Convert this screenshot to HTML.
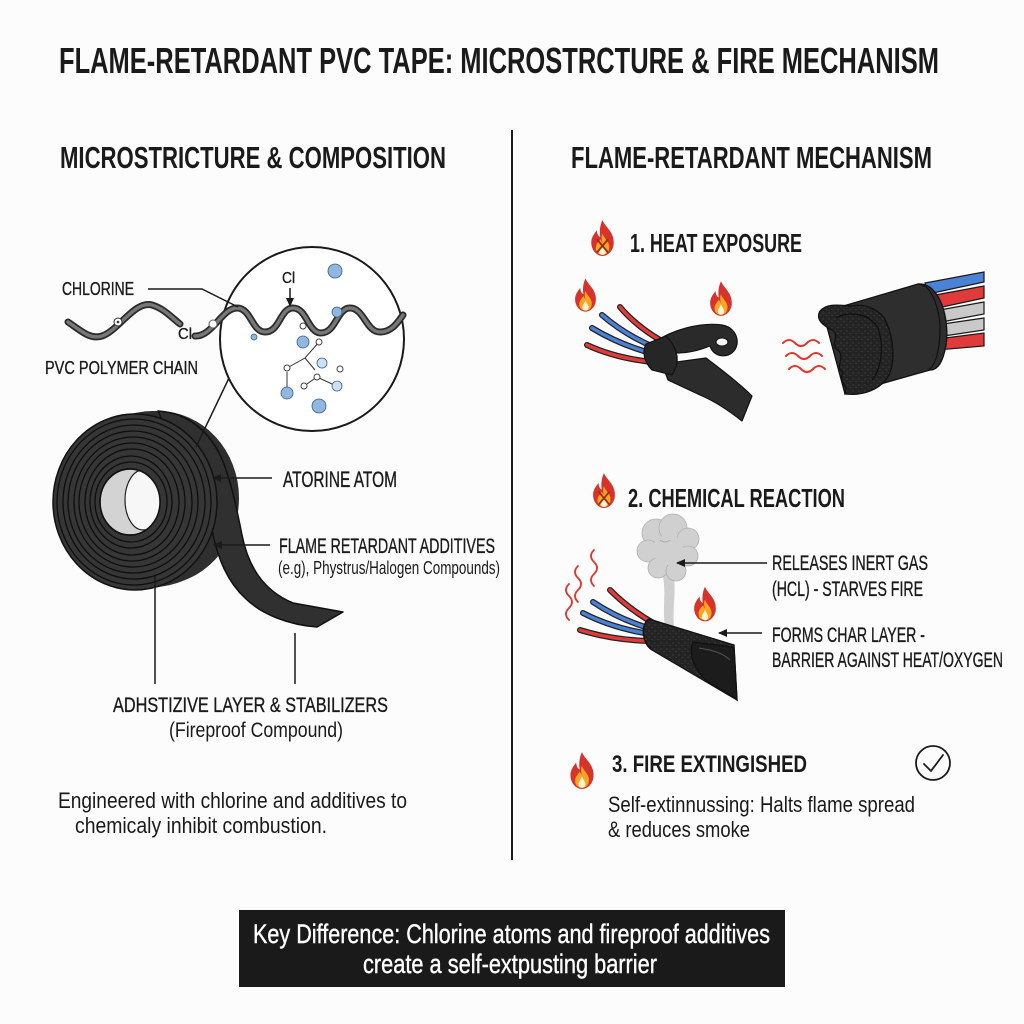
<!DOCTYPE html>
<html>
<head>
<meta charset="utf-8">
<style>
  html,body{margin:0;padding:0;background:#fcfcfc;}
  svg{display:block;}
  text{font-family:"Liberation Sans Narrow","Liberation Sans","DejaVu Sans",sans-serif;fill:#1a1a1a;}
  .h{font-weight:bold;}
  .l{stroke:#1a1a1a;stroke-width:0.35;}
  .w{fill:#ffffff;stroke:#ffffff;stroke-width:0.4;}
</style>
</head>
<body>
<svg width="1024" height="1024" viewBox="0 0 1024 1024" xmlns="http://www.w3.org/2000/svg">
  <defs>
    <marker id="ah" markerWidth="10" markerHeight="10" refX="8" refY="5" orient="auto" markerUnits="userSpaceOnUse">
      <path d="M0,1 L9,5 L0,9 Z" fill="#1a1a1a"/>
    </marker>
    <symbol id="flame" viewBox="0 0 24 32">
      <path d="M12,0 C14,6 22,10 22,20 C22,27 17,32 12,32 C7,32 2,27 2,20 C2,15 5,12 7,9 C7,13 9,15 10,15 C9,10 10,4 12,0 Z" fill="#d8322a"/>
      <path d="M12,12 C13,16 18,19 18,24 C18,29 15,31 12,31 C9,31 6,29 6,25 C6,21 9,19 10,17 C11,19 12,20 12,20 C11,17 11,14 12,12 Z" fill="#f6a623"/>
      <path d="M12,21 C13,24 15,26 15,28 C15,30 13.5,31 12,31 C10.5,31 9,30 9,28 C9,26 11,24 12,21 Z" fill="#fff4d2"/>
    </symbol>
    <symbol id="flamex" viewBox="0 0 24 32">
      <use href="#flame" x="0" y="0" width="24" height="32"/>
      <path d="M7,17 L17,29 M17,17 L7,29" stroke="#9a2a1c" stroke-width="1.6"/>
    </symbol>
    <pattern id="speck" width="6" height="6" patternUnits="userSpaceOnUse">
      <rect width="6" height="6" fill="#242424"/>
      <circle cx="1" cy="1" r="0.6" fill="#4a4a4a"/>
      <circle cx="4" cy="3.5" r="0.5" fill="#555"/>
      <circle cx="2.5" cy="5" r="0.4" fill="#111"/>
    </pattern>
    <clipPath id="holeclip"><ellipse cx="130" cy="502" rx="30" ry="33"/></clipPath>
  </defs>

  <rect width="1024" height="1024" fill="#fcfcfc"/>

  <!-- Title -->
  <text class="h" x="59" y="73" font-size="36" textLength="880" lengthAdjust="spacingAndGlyphs">FLAME-RETARDANT PVC TAPE: MICROSTRCTURE &amp; FIRE MECHANISM</text>

  <!-- Subheads -->
  <text class="h" x="60" y="168" font-size="31" textLength="386" lengthAdjust="spacingAndGlyphs">MICROSTRICTURE &amp; COMPOSITION</text>
  <text class="h" x="571" y="168" font-size="31" textLength="361" lengthAdjust="spacingAndGlyphs">FLAME-RETARDANT MECHANISM</text>

  <!-- Divider -->
  <line x1="512" y1="130" x2="512" y2="860" stroke="#1a1a1a" stroke-width="2"/>

  <!-- ============ LEFT ============ -->
  <!-- magnifier circle -->
  <circle cx="312" cy="339" r="92" fill="#ffffff" stroke="#1a1a1a" stroke-width="2"/>

  <!-- chain left portion -->
  <path d="M68,322 C80,330 90,340 102,336 C118,331 135,300 152,305 C165,309 172,318 180,324" fill="none" stroke="#2a2a2a" stroke-width="7" stroke-linecap="round"/>
  <path d="M68,322 C80,330 90,340 102,336 C118,331 135,300 152,305 C165,309 172,318 180,324" fill="none" stroke="#777" stroke-width="3.5" stroke-linecap="round"/>
  <!-- chain right portion -->
  <path d="M195,336 C212,337 222,308 237,308 C251,308 252,332 265,332 C280,332 280,308 293,308 C307,308 308,333 321,333 C336,333 337,308 350,308 C364,308 366,332 380,332 C392,332 398,322 403,315" fill="none" stroke="#2a2a2a" stroke-width="7" stroke-linecap="round"/>
  <path d="M195,336 C212,337 222,308 237,308 C251,308 252,332 265,332 C280,332 280,308 293,308 C307,308 308,333 321,333 C336,333 337,308 350,308 C364,308 366,332 380,332 C392,332 398,322 403,315" fill="none" stroke="#777" stroke-width="3.5" stroke-linecap="round"/>

  <circle cx="118" cy="322" r="4" fill="#fff" stroke="#333" stroke-width="1"/>
  <circle cx="118" cy="322" r="1.3" fill="#333"/>
  <circle cx="213" cy="324" r="4" fill="#fff" stroke="#666" stroke-width="1"/>

  <!-- dots inside circle -->
  <g stroke="#3a5f86" stroke-width="0.8">
    <circle cx="335" cy="271" r="7" fill="#8fb7e0"/>
    <circle cx="337" cy="312" r="5" fill="#8fb7e0"/>
    <circle cx="254" cy="337" r="3" fill="#8fb7e0"/>
    <circle cx="303" cy="342" r="6" fill="#8fb7e0"/>
    <circle cx="322" cy="363" r="5" fill="#cfe0f2"/>
    <circle cx="337" cy="386" r="5" fill="#cfe0f2"/>
    <circle cx="287" cy="393" r="6" fill="#8fb7e0"/>
    <circle cx="319" cy="406" r="7" fill="#8fb7e0"/>
  </g>
  <g stroke="#333" stroke-width="1" fill="none">
    <path d="M287,368 L305,358 L319,342"/>
    <path d="M305,358 L315,370"/>
    <path d="M287,372 L287,387"/>
    <path d="M304,386 L317,377 L332,384"/>
  </g>
  <g stroke="#444" stroke-width="1" fill="#fff">
    <circle cx="303" cy="326" r="3"/>
    <circle cx="319" cy="342" r="3"/>
    <circle cx="287" cy="368" r="3"/>
    <circle cx="340" cy="369" r="3"/>
    <circle cx="317" cy="377" r="3"/>
    <circle cx="304" cy="386" r="3"/>
  </g>

  <!-- Cl labels -->
  <text class="l" x="282" y="283" font-size="16" textLength="13" lengthAdjust="spacingAndGlyphs">Cl</text>
  <line x1="290" y1="288" x2="290" y2="306" stroke="#1a1a1a" stroke-width="1.5" marker-end="url(#ah)"/>
  <text class="l" x="178" y="339" font-size="16" textLength="14" lengthAdjust="spacingAndGlyphs">Cl</text>

  <!-- Chlorine leader -->
  <polyline points="148,289 202,289 238,307" fill="none" stroke="#1a1a1a" stroke-width="1.5"/>
  <text class="l" x="62" y="295" font-size="18" textLength="72" lengthAdjust="spacingAndGlyphs">CHLORINE</text>
  <text class="l" x="45" y="374" font-size="18" textLength="153" lengthAdjust="spacingAndGlyphs">PVC POLYMER CHAIN</text>

  <!-- Tape roll -->
  <g fill="#2f2f2f" stroke="none">
    <ellipse cx="141" cy="501" rx="82" ry="88"/>
    <ellipse cx="147" cy="500" rx="82" ry="88"/>
    <ellipse cx="153" cy="499" rx="82" ry="88"/>
    <ellipse cx="158" cy="498" rx="81" ry="87"/>
  </g>
  <path d="M158,411 C190,413 215,435 226,470 C233,490 238,515 242,535 C248,565 262,590 293,603 L343,612 L317,627 C290,625 262,615 245,598 C228,582 218,560 212,530 Z" fill="#303030" stroke="#111" stroke-width="1.5" stroke-linejoin="round"/>
  <ellipse cx="135" cy="502" rx="82" ry="88" fill="#363636" stroke="#111" stroke-width="1.5"/>
  <g fill="none" stroke="#0e0e0e" stroke-width="1.3">
    <ellipse cx="134" cy="502" rx="77" ry="83"/>
    <ellipse cx="134" cy="502" rx="71" ry="77"/>
    <ellipse cx="133" cy="502" rx="65" ry="71"/>
    <ellipse cx="133" cy="502" rx="59" ry="65"/>
    <ellipse cx="132" cy="502" rx="53" ry="59"/>
    <ellipse cx="132" cy="502" rx="47" ry="53"/>
    <ellipse cx="131" cy="502" rx="41" ry="46"/>
    <ellipse cx="131" cy="502" rx="36" ry="40"/>
  </g>
  <ellipse cx="130" cy="502" rx="30" ry="33" fill="#d3d3d3" stroke="#111" stroke-width="1.5"/>
  <g clip-path="url(#holeclip)">
    <ellipse cx="143" cy="500" rx="18" ry="30" fill="#f7f7f7" stroke="#222" stroke-width="1.2"/>
  </g>
  <ellipse cx="130" cy="502" rx="30" ry="33" fill="none" stroke="#111" stroke-width="1.5"/>

  <!-- leader from circle to tape -->
  <line x1="229" y1="378" x2="196" y2="447" stroke="#1a1a1a" stroke-width="1.5"/>

  <!-- arrows -->
  <line x1="272" y1="478" x2="213" y2="478" stroke="#1a1a1a" stroke-width="1.5" marker-end="url(#ah)"/>
  <text class="l" x="283" y="487" font-size="22" textLength="114" lengthAdjust="spacingAndGlyphs">ATORINE ATOM</text>
  <line x1="270" y1="545" x2="214" y2="545" stroke="#1a1a1a" stroke-width="1.5" marker-end="url(#ah)"/>
  <text class="l" x="279" y="553" font-size="21" textLength="216" lengthAdjust="spacingAndGlyphs">FLAME RETARDANT ADDITIVES</text>
  <text x="278" y="574" font-size="18" textLength="222" lengthAdjust="spacingAndGlyphs">(e.g), Phystrus/Halogen Compounds)</text>

  <line x1="155" y1="576" x2="155" y2="684" stroke="#1a1a1a" stroke-width="1.5"/>
  <line x1="295" y1="633" x2="295" y2="684" stroke="#1a1a1a" stroke-width="1.5"/>
  <text class="l" x="113" y="712" font-size="21" textLength="275" lengthAdjust="spacingAndGlyphs">ADHSTIZIVE LAYER &amp; STABILIZERS</text>
  <text x="169" y="737" font-size="21" textLength="174" lengthAdjust="spacingAndGlyphs">(Fireproof Compound)</text>

  <text x="58" y="808" font-size="22" textLength="349" lengthAdjust="spacingAndGlyphs">Engineered with chlorine and additives to</text>
  <text x="75" y="833" font-size="22" textLength="252" lengthAdjust="spacingAndGlyphs">chemicaly inhibit combustion.</text>

  <!-- ============ RIGHT ============ -->
  <!-- Step 1 -->
  <use href="#flamex" x="588" y="220" width="29" height="36"/>
  <text class="h" x="630" y="252" font-size="26" textLength="172" lengthAdjust="spacingAndGlyphs">1. HEAT EXPOSURE</text>

  <use href="#flame" x="573" y="277" width="25" height="36"/>
  <use href="#flame" x="708" y="280" width="26" height="37"/>

  <!-- wires left -->
  <g fill="none" stroke-linecap="round">
    <path d="M620,307 Q635,325 660,340" stroke="#222" stroke-width="6"/>
    <path d="M620,307 Q635,325 660,340" stroke="#e03a3a" stroke-width="3.5"/>
    <path d="M602,315 Q625,335 656,348" stroke="#222" stroke-width="6"/>
    <path d="M602,315 Q625,335 656,348" stroke="#4a80d6" stroke-width="3.5"/>
    <path d="M592,328 Q620,345 654,354" stroke="#222" stroke-width="6"/>
    <path d="M592,328 Q620,345 654,354" stroke="#4a80d6" stroke-width="3.5"/>
    <path d="M587,345 Q615,358 652,362" stroke="#222" stroke-width="6"/>
    <path d="M587,345 Q615,358 652,362" stroke="#e03a3a" stroke-width="3.5"/>
  </g>
  <!-- tape on wires -->
  <path d="M655,342 C672,330 700,322 722,325 C740,328 742,350 728,355 C718,358 712,352 710,346 C700,350 688,353 678,353 Z" fill="#2a2a2a" stroke="#111" stroke-width="1.2"/>
  <ellipse cx="722" cy="342" rx="6" ry="4" fill="#fcfcfc" stroke="#111" stroke-width="1"/>
  <path d="M662,364 L706,358 C722,370 740,384 752,396 L742,421 C728,410 712,400 700,395 L668,380 Z" fill="#2c2c2c" stroke="#111" stroke-width="1.2" stroke-linejoin="round"/>
  <path d="M646,344 L666,336 C676,346 682,360 672,375 L652,370 C644,362 642,352 646,344 Z" fill="#262626" stroke="#111" stroke-width="1.2"/>

  <!-- heat waves -->
  <g fill="none" stroke="#e2362e" stroke-width="2" stroke-linecap="round">
    <path d="M783,343 c4,-4 8,-4 12,0 c4,4 8,4 12,0 c4,-4 8,-4 12,0"/>
    <path d="M786,356 c4,-4 8,-4 12,0 c4,4 8,4 12,0 c4,-4 8,-4 12,0"/>
    <path d="M789,369 c4,-4 8,-4 12,0 c4,4 8,4 12,0 c4,-4 8,-4 12,0"/>
  </g>

  <!-- charred cable right -->
  <g stroke="#1a1a1a" stroke-width="1.2">
    <path d="M925,283 L984,272 L984,282 L928,294 Z" fill="#4a82d6"/>
    <path d="M930,296 L984,286 L984,298 L933,309 Z" fill="#e03a3a"/>
    <path d="M934,311 L984,302 L984,314 L936,323 Z" fill="#c9c9c9"/>
    <path d="M936,325 L984,318 L984,330 L937,337 Z" fill="#c9c9c9"/>
    <path d="M937,339 L984,333 L984,346 L937,350 Z" fill="#e03a3a"/>
  </g>
  <path d="M823,312 L918,284 C940,282 950,320 946,345 C943,362 938,370 930,370 L845,394 Z" fill="#2e2e2e" stroke="#111" stroke-width="1.3"/>
  <path d="M918,284 C932,284 940,310 940,330 C940,352 934,368 928,370" fill="none" stroke="#111" stroke-width="1.2"/>
  <path d="M820,311 C828,302 842,306 852,306 C866,303 878,310 884,318 C893,333 896,360 889,375 C881,390 862,396 845,394 C849,386 838,381 843,373 C834,366 846,358 838,350 C828,345 842,336 832,330 C824,326 815,320 820,311 Z" fill="url(#speck)" stroke="#111" stroke-width="1.3"/>
  <path d="M836,318 C850,310 870,314 878,328 C884,345 882,368 872,380" fill="none" stroke="#0e0e0e" stroke-width="1.2"/>

  <!-- Step 2 -->
  <use href="#flamex" x="590" y="473" width="28" height="35"/>
  <text class="h" x="628" y="507" font-size="26" textLength="217" lengthAdjust="spacingAndGlyphs">2. CHEMICAL REACTION</text>

  <!-- smoke -->
  <path d="M662,574 C667,590 662,606 665,626 L674,626 C672,606 677,590 673,574 Z" fill="#cfcfcf"/>
  <g fill="#d0d0d0" stroke="#b0b0b0" stroke-width="0.8">
    <circle cx="656" cy="533" r="14"/>
    <circle cx="673" cy="528" r="14"/>
    <circle cx="688" cy="539" r="11"/>
    <circle cx="648" cy="551" r="11"/>
    <circle cx="688" cy="556" r="10"/>
    <circle cx="658" cy="568" r="10"/>
    <circle cx="676" cy="571" r="10"/>
  </g>
  <circle cx="668" cy="550" r="15" fill="#d0d0d0"/>
  <path d="M660,540 q5,4 10,0" fill="none" stroke="#aaa" stroke-width="1"/>

  <use href="#flame" x="692" y="585" width="26" height="38"/>

  <!-- heat squiggles vertical -->
  <g fill="none" stroke="#e2362e" stroke-width="1.8" stroke-linecap="round">
    <path d="M594,586 c-4,-4 -4,-8 0,-12 c4,-4 4,-8 0,-12 c-4,-4 -4,-8 0,-12"/>
    <path d="M578,602 c-4,-4 -4,-8 0,-12 c4,-4 4,-8 0,-12 c-4,-4 -4,-8 0,-12"/>
    <path d="M569,620 c-4,-4 -4,-8 0,-12 c4,-4 4,-8 0,-12 c-4,-4 -4,-8 0,-12"/>
  </g>

  <!-- wires row2 -->
  <g fill="none" stroke-linecap="round">
    <path d="M610,590 Q630,610 655,624" stroke="#222" stroke-width="6"/>
    <path d="M610,590 Q630,610 655,624" stroke="#e03a3a" stroke-width="3.5"/>
    <path d="M593,602 Q620,620 652,629" stroke="#222" stroke-width="6"/>
    <path d="M593,602 Q620,620 652,629" stroke="#4a80d6" stroke-width="3.5"/>
    <path d="M583,613 Q612,628 650,634" stroke="#222" stroke-width="6"/>
    <path d="M583,613 Q612,628 650,634" stroke="#4a80d6" stroke-width="3.5"/>
    <path d="M580,630 Q612,640 650,641" stroke="#222" stroke-width="6"/>
    <path d="M580,630 Q612,640 650,641" stroke="#e03a3a" stroke-width="3.5"/>
  </g>
  <path d="M649,619 L734,645 L737,700 L652,650 C642,644 640,624 649,619 Z" fill="url(#speck)" stroke="#111" stroke-width="1.3"/>
  <path d="M693,642 C705,644 725,645 734,648 L737,700 C726,690 706,685 699,672 C692,662 689,652 693,642 Z" fill="#1c1c1c" stroke="#111" stroke-width="1.3"/>
  <path d="M699,648 C710,650 722,652 730,660" fill="none" stroke="#555" stroke-width="1"/>

  <line x1="767" y1="563" x2="677" y2="563" stroke="#1a1a1a" stroke-width="1.5" marker-end="url(#ah)"/>
  <text class="l" x="772" y="570" font-size="21" textLength="156" lengthAdjust="spacingAndGlyphs">RELEASES INERT GAS</text>
  <text class="l" x="772" y="596" font-size="21" textLength="151" lengthAdjust="spacingAndGlyphs">(HCL) - STARVES FIRE</text>
  <line x1="762" y1="633" x2="719" y2="633" stroke="#1a1a1a" stroke-width="1.5" marker-end="url(#ah)"/>
  <text class="l" x="772" y="642" font-size="21" textLength="153" lengthAdjust="spacingAndGlyphs">FORMS CHAR LAYER -</text>
  <text class="l" x="772" y="667" font-size="21" textLength="231" lengthAdjust="spacingAndGlyphs">BARRIER AGAINST HEAT/OXYGEN</text>

  <!-- Step 3 -->
  <use href="#flame" x="568" y="752" width="28" height="37"/>
  <text class="h" x="612" y="772" font-size="24" textLength="195" lengthAdjust="spacingAndGlyphs">3. FIRE EXTINGISHED</text>
  <circle cx="933" cy="763" r="17" fill="none" stroke="#1a1a1a" stroke-width="1.8"/>
  <path d="M924,764 L931,771 L943,755" fill="none" stroke="#1a1a1a" stroke-width="1.8" stroke-linecap="round" stroke-linejoin="round"/>
  <text x="608" y="812" font-size="22" textLength="307" lengthAdjust="spacingAndGlyphs">Self-extinnussing: Halts flame spread</text>
  <text x="608" y="837" font-size="22" textLength="142" lengthAdjust="spacingAndGlyphs">&amp; reduces smoke</text>

  <!-- Bottom key box -->
  <rect x="239" y="910" width="546" height="77" fill="#1a1a1a"/>
  <text class="w" x="253" y="943" font-size="27" textLength="517" lengthAdjust="spacingAndGlyphs">Key Difference: Chlorine atoms and fireproof additives</text>
  <text class="w" x="363" y="973" font-size="27" textLength="294" lengthAdjust="spacingAndGlyphs">create a self-extpusting barrier</text>
</svg>
</body>
</html>
